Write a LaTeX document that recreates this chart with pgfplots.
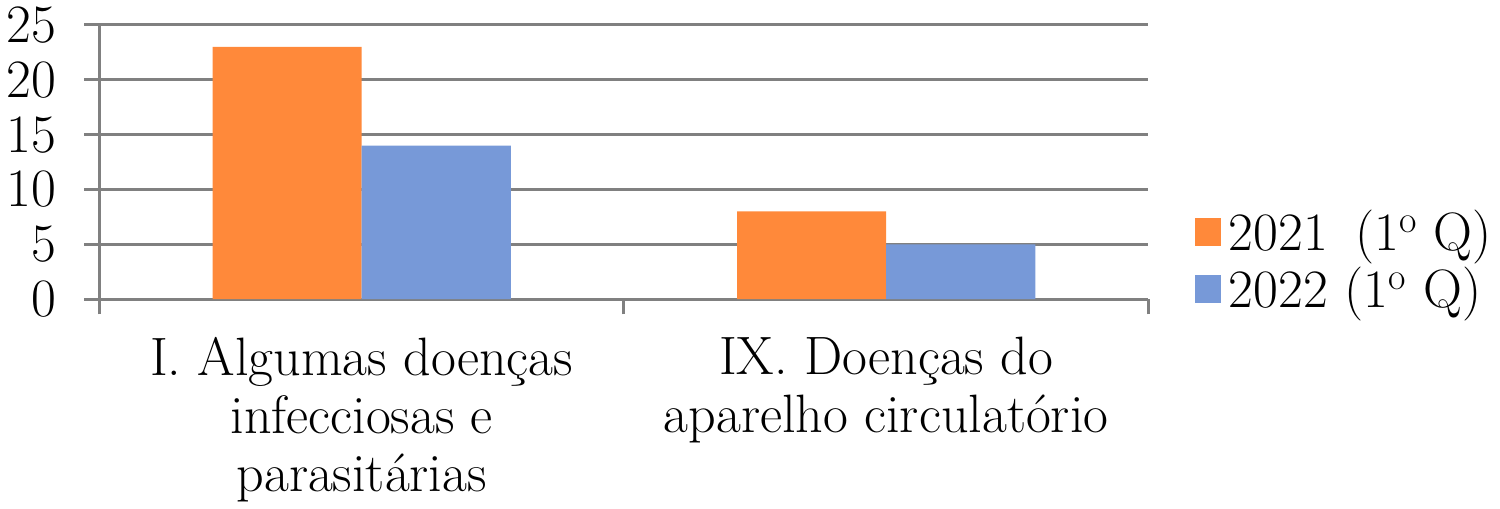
\documentclass[border=0pt]{standalone}
\usepackage{fontspec}
\usepackage{pgfplots}
\pgfplotsset{compat=1.18}
\definecolor{orng}{RGB}{255,137,58}
\definecolor{blu}{RGB}{119,153,216}
\definecolor{gr}{RGB}{128,128,128}
\begin{document}
\begin{tikzpicture}[font=\fontsize{27}{29}\selectfont]
\begin{axis}[
  scale only axis,
  width=524pt, height=137pt,
  ybar=0pt, bar width=74.5pt,
  xmin=-0.5, xmax=1.5,
  ymin=0, ymax=25,
  ytick={0,5,...,25},
  xtick={0,1},
  xticklabels={{I. Algumas doenças\\infecciosas e\\parasitárias},{IX. Doenças do\\aparelho circulatório}},
  xticklabel style={align=center, yshift=-8pt},
  minor xtick={-0.5,0.5,1.5},
  major x tick style={draw=none},
  minor x tick style={draw=gr, line width=1.5pt},
  minor tick length=7.5pt,
  major tick length=7.5pt,
  tick align=outside,
  axis x line*=bottom, axis y line*=left,
  axis line style={draw=gr, line width=1.5pt, -},
  y tick style={draw=gr, line width=1.5pt},
  ymajorgrids, major grid style={draw=gr, line width=1.5pt},
  /pgf/number format/assume math mode=true,
  yticklabel style={xshift=-10.5pt},
  legend style={draw=none, fill=none, at={(1,0.142)}, anchor=west, xshift=20pt,
    row sep=5pt, nodes={inner sep=1pt}, legend cell align=left,
    /tikz/every odd column/.append style={column sep=3pt}},
  legend image code/.code={\fill[#1] (0pt,-7pt) rectangle (13pt,7pt);},
  clip=false,
]
\addplot[fill=orng, draw=none] coordinates {(0,23) (1,8)};
\addplot[fill=blu, draw=none] coordinates {(0,14) (1,5)};
\legend{2021\ \hspace{0.2em}(1\textsuperscript{o} Q), 2022 (1\textsuperscript{o} Q)}
\end{axis}
\end{tikzpicture}
\end{document}
